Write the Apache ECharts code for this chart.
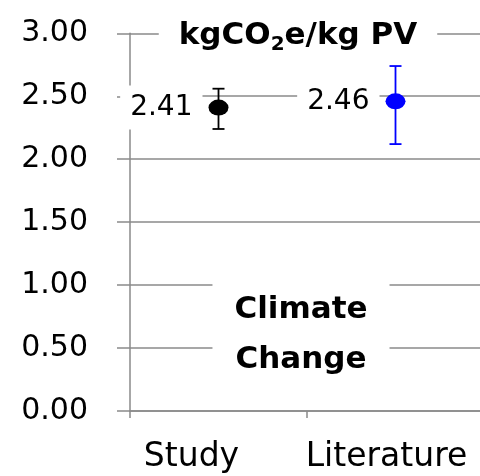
<!DOCTYPE html>
<html>
<head>
<meta charset="utf-8">
<script src="https://cdn.jsdelivr.net/npm/echarts@6/dist/echarts.min.js"></script>
<style>html,body{margin:0;padding:0;background:#fff;overflow:hidden}#c{width:485px;height:476px}</style>
</head>
<body>
<div id="c"></div>
<script>
const categories = ['Study', 'Literature'];
const values = [2.41, 2.46];
const errLow = [2.24, 2.12];
const errHigh = [2.56, 2.74];
const pointColors = ['#000000', '#0000FF'];
const labelShift = [54, 18];
const yMin = 0, yMax = 3, yStep = 0.5;
const titleText = 'kgCO{sub|2}e/kg PV';
const panelText = 'Climate\nChange';

const FONT = 'DejaVu Sans';
const GRAY = '#8a8a8a';

const chart = echarts.init(document.getElementById('c'), null, {renderer: 'canvas'});

const errData = categories.map((c, i) => [i, errLow[i], errHigh[i]]);
const pointData = categories.map((c, i) => ({value: [i, values[i]], itemStyle: {color: pointColors[i], opacity: 1}}));

chart.setOption({
  animation: false,
  backgroundColor: '#ffffff',
  graphic: [
    {
      type: 'text', z: 100, x: 298, y: 36,
      style: {
        text: titleText, align: 'center', verticalAlign: 'middle',
        backgroundColor: '#ffffff', padding: [2, 20, 2, 20],
        font: 'bold 31px "DejaVu Sans"', fill: '#000',
        rich: {
          sub: {fontFamily: FONT, fontWeight: 'bold', fontSize: 20, fill: '#000', padding: [18, 0, 0, 0]}
        }
      }
    },
    {
      type: 'text', z: 100, x: 301, y: 335,
      style: {
        text: panelText, align: 'center', verticalAlign: 'middle',
        backgroundColor: '#ffffff', padding: [8, 22, 8, 22],
        font: 'bold 31px "DejaVu Sans"', lineHeight: 50, fill: '#000'
      }
    }
  ],
  grid: {left: 130, top: 33.3, right: 1, bottom: 65, containLabel: false},
  xAxis: {
    type: 'category',
    data: categories,
    boundaryGap: true,
    axisLine: {lineStyle: {color: GRAY, width: 1.5}},
    axisTick: {show: true, length: 7, lineStyle: {color: GRAY, width: 1.5}},
    axisLabel: {
      interval: 0, hideOverlap: false,
      margin: 30,
      fontFamily: FONT, fontSize: 33, color: '#000',
      formatter: function (v, i) { return '{a' + i + '|' + v + '}'; },
      rich: {
        a0: {fontFamily: FONT, fontSize: 33, color: '#000', padding: [0, labelShift[0], 0, 0]},
        a1: {fontFamily: FONT, fontSize: 33, color: '#000', padding: [0, labelShift[1], 0, 0]}
      }
    },
    splitLine: {show: false}
  },
  yAxis: {
    type: 'value',
    min: yMin, max: yMax, interval: yStep,
    axisLine: {show: true, lineStyle: {color: GRAY, width: 1.5}},
    axisTick: {show: true, length: 13, lineStyle: {color: GRAY, width: 1.5}},
    axisLabel: {
      margin: 42,
      fontFamily: FONT, fontSize: 30, color: '#000',
      formatter: v => v.toFixed(2)
    },
    splitLine: {show: true, lineStyle: {color: GRAY, width: 1.5}}
  },
  series: [
    {
      type: 'custom',
      data: errData,
      z: 3,
      renderItem: function (params, api) {
        const i = params.dataIndex;
        const lo = api.coord([api.value(0), api.value(1)]);
        const hi = api.coord([api.value(0), api.value(2)]);
        const hw = 6;
        const style = {stroke: pointColors[i], lineWidth: 1.8, fill: null};
        return {
          type: 'group',
          children: [
            {type: 'line', shape: {x1: lo[0], y1: lo[1], x2: hi[0], y2: hi[1]}, style: style},
            {type: 'line', shape: {x1: lo[0] - hw, y1: lo[1], x2: lo[0] + hw, y2: lo[1]}, style: style},
            {type: 'line', shape: {x1: hi[0] - hw, y1: hi[1], x2: hi[0] + hw, y2: hi[1]}, style: style}
          ]
        };
      }
    },
    {
      type: 'scatter',
      data: pointData,
      z: 4,
      symbol: 'circle',
      symbolSize: [20, 16],
      itemStyle: {opacity: 1},
      label: {
        show: true,
        position: 'left',
        distance: 6,
        formatter: p => p.value[1].toFixed(2),
        fontFamily: FONT, fontSize: 28, color: '#000', opacity: 1,
        backgroundColor: '#ffffff',
        padding: [8, 10, 8, 10]
      }
    }
  ]
});
</script>
</body>
</html>
